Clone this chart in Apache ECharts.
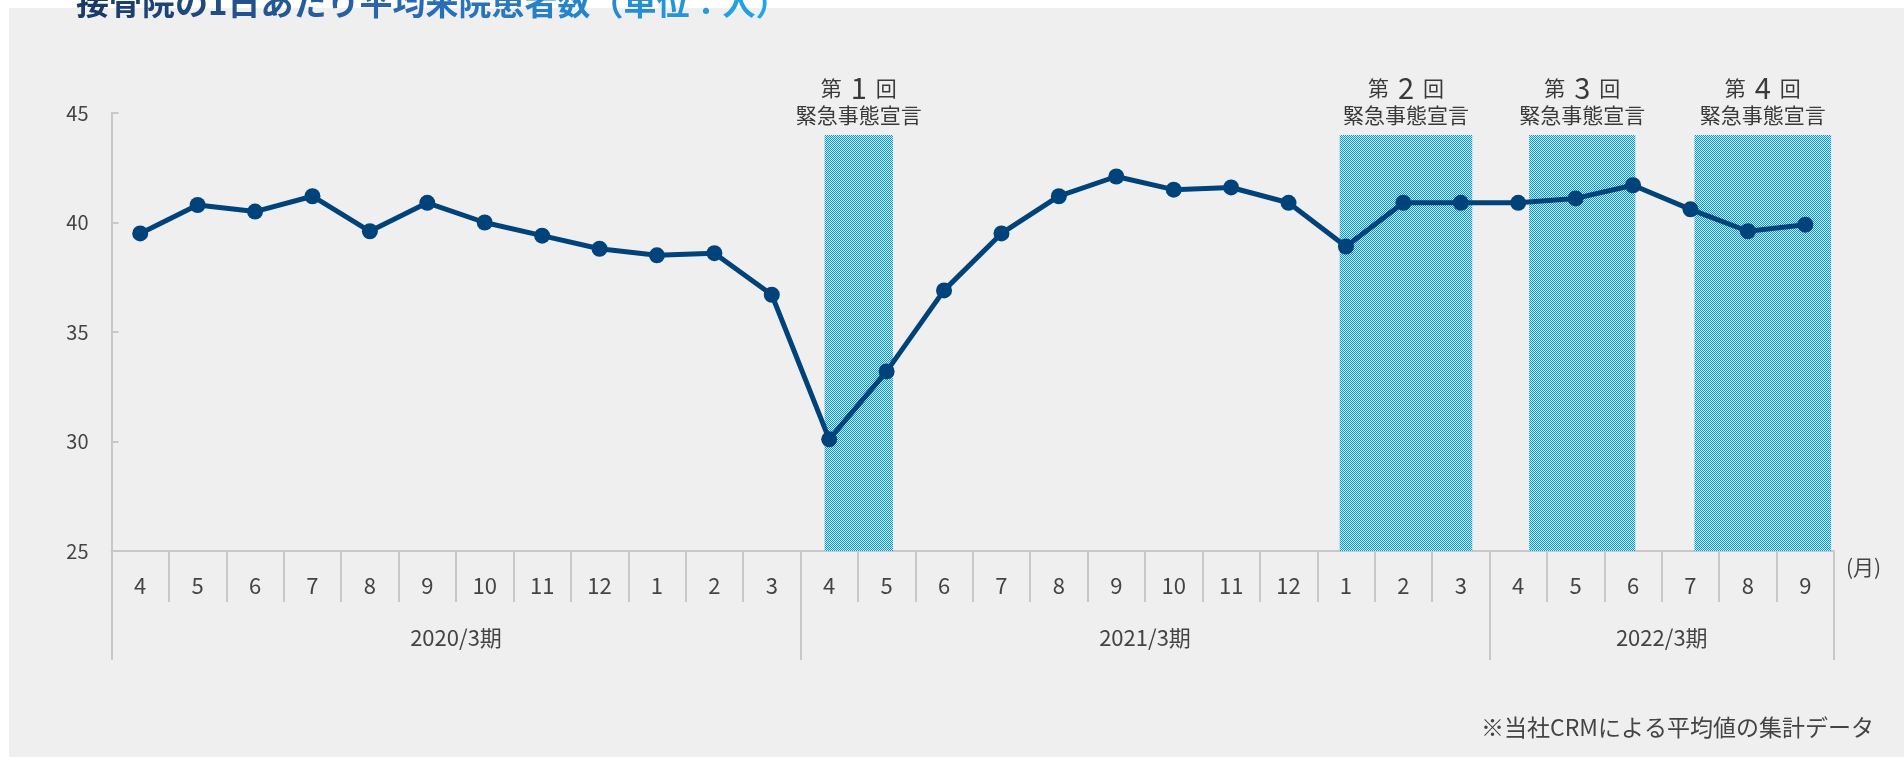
<!DOCTYPE html>
<html>
<head>
<meta charset="utf-8">
<script src="https://cdn.jsdelivr.net/npm/echarts@6/dist/echarts.min.js"></script>
<style>
html,body{margin:0;padding:0;background:#ffffff;}
#bg{position:absolute;left:9px;top:8px;width:1895px;height:749px;background:#efefef;}
#chart{position:absolute;left:0;top:0;width:1904px;height:757px;}
</style>
</head>
<body>
<div id="bg"></div>
<div id="chart"></div>
<script>
// ---- data ----
const months = ['4','5','6','7','8','9','10','11','12','1','2','3',
                '4','5','6','7','8','9','10','11','12','1','2','3',
                '4','5','6','7','8','9'];
const patients = [39.5,40.8,40.5,41.2,39.6,40.9,40.0,39.4,38.8,38.5,38.6,36.7,
                  30.1,33.2,36.9,39.5,41.2,42.1,41.5,41.6,40.9,38.9,40.9,40.9,
                  40.9,41.1,41.7,40.6,39.6,39.9];
const periodLabels = ['2020/3期','2021/3期','2022/3期'];
const periodMonths = [12,12,6];
const yMin = 25, yMax = 45, yStep = 5;
const declNumbers = ['1','2','3','4'];
const declStart = [12.42, 21.39, 24.69, 27.57];   // in month units along the axis
const declEnd   = [13.61, 23.70, 26.54, 29.95];
const declTop = 44;
const titleText = '接骨院の1日あたり平均来院患者数（単位：人）';
const noteText = '※当社CRMによる平均値の集計データ';
const unitText = '(月)';

// ---- derived ----
const boundaries = [0];
periodMonths.forEach(m => boundaries.push(boundaries[boundaries.length-1] + m));
const periodCenters = periodMonths.map((m,i) => boundaries[i] + m/2);

const FONT = '"Noto Sans CJK JP", "Noto Sans", sans-serif';
const TXT = '#444444';
const AXIS = '#c8c8c8';

// checker pattern
const pc = document.createElement('canvas');
pc.width = 2; pc.height = 2;
const g = pc.getContext('2d');
g.fillStyle = '#d4ecf8'; g.fillRect(0,0,2,2);
g.fillStyle = '#0096d8'; g.fillRect(0,0,1,1); g.fillRect(1,1,1,1);
const pattern = {image: pc, repeat: 'repeat'};

// title gradient via per-character colours
const gradStops = [[0, [26,58,104]], [0.45, [42,102,176]], [1, [34,165,232]]];
function gradColor(t) {
  for (let k = 0; k < gradStops.length - 1; k++) {
    const a = gradStops[k], b = gradStops[k+1];
    if (t <= b[0]) {
      const u = (t - a[0]) / (b[0] - a[0]);
      const c = a[1].map((v, j) => Math.round(v + (b[1][j] - v) * u));
      return 'rgb(' + c.join(',') + ')';
    }
  }
  return 'rgb(' + gradStops[gradStops.length-1][1].join(',') + ')';
}
const titleChars = Array.from(titleText);
const titleRich = {};
let titleRichText = '';
titleChars.forEach((ch, i) => {
  const key = 'c' + i;
  titleRich[key] = {fill: gradColor(i / (titleChars.length - 1)), fontSize: 33, fontWeight: 'bold', fontFamily: FONT};
  titleRichText += '{' + key + '|' + ch + '}';
});

const chart = echarts.init(document.getElementById('chart'), null, {renderer:'canvas'});

const option = {
  animation: false,
  backgroundColor: 'transparent',
  grid: {left: 111.5, right: 70, top: 113, bottom: 206},
  xAxis: [
    {
      type: 'category',
      data: months,
      boundaryGap: true,
      axisLine: {show: true, lineStyle: {color: AXIS, width: 2}},
      axisTick: {show: true, interval: 0, length: 51, lineStyle: {color: AXIS, width: 2}},
      axisLabel: {interval: 0, fontSize: 22, color: TXT, fontFamily: FONT, margin: 24},
      splitLine: {show: false}
    },
    {
      type: 'value',
      min: 0, max: boundaries[boundaries.length-1],
      position: 'bottom',
      axisLine: {show: false},
      axisTick: {show: true, customValues: boundaries, length: 109, lineStyle: {color: AXIS, width: 2}},
      axisLabel: {
        customValues: periodCenters,
        fontSize: 22, color: TXT, fontFamily: FONT, margin: 76,
        formatter: function (v) {
          const i = periodCenters.indexOf(v);
          return i >= 0 ? periodLabels[i] : '';
        }
      },
      splitLine: {show: false}
    }
  ],
  yAxis: {
    type: 'value',
    min: yMin, max: yMax, interval: yStep,
    axisLine: {show: true, lineStyle: {color: AXIS, width: 2}},
    axisTick: {show: true, inside: true, length: 7, lineStyle: {color: AXIS, width: 2}},
    axisLabel: {fontSize: 20, color: TXT, fontFamily: FONT, margin: 23},
    splitLine: {show: false}
  },
  series: [
    {
      type: 'custom',
      xAxisIndex: 1,
      yAxisIndex: 0,
      z: 1,
      clip: false,
      data: declStart.map((s, i) => [s, declEnd[i]]),
      renderItem: function (params, api) {
        const p0 = api.coord([api.value(0), declTop]);
        const p1 = api.coord([api.value(1), yMin]);
        const cx = (p0[0] + p1[0]) / 2;
        const num = declNumbers[params.dataIndex];
        return {
          type: 'group',
          children: [
            {type: 'rect', shape: {x: p0[0], y: p0[1], width: p1[0]-p0[0], height: p1[1]-p0[1]},
             style: {fill: pattern}},
            {type: 'text', x: cx, y: p0[1] - 47,
             style: {text: '{a|第}{b|' + num + '}{a|回}', align: 'center', verticalAlign: 'middle',
               rich: {a: {fontSize: 21, fontFamily: FONT, fill: '#3a3a3a'},
                      b: {fontSize: 29, fontFamily: FONT, fill: '#3a3a3a', padding: [0, 9, 0, 9]}}}},
            {type: 'text', x: cx, y: p0[1] - 20,
             style: {text: '緊急事態宣言', align: 'center', verticalAlign: 'middle',
               fontSize: 21, fontFamily: FONT, fill: '#3a3a3a'}}
          ]
        };
      }
    },
    {
      type: 'line',
      xAxisIndex: 0,
      yAxisIndex: 0,
      z: 3,
      data: patients,
      symbol: 'circle',
      symbolSize: 16,
      lineStyle: {width: 5, color: '#00437b'},
      itemStyle: {color: '#00437b'}
    }
  ],
  graphic: [
    {type: 'text', x: 76, y: 2, z: 10,
     style: {text: titleRichText, rich: titleRich, align: 'left', verticalAlign: 'middle',
       font: 'bold 33px ' + FONT}},
    {type: 'text', x: 1846, y: 567,
     style: {text: unitText, align: 'left', verticalAlign: 'middle', fontSize: 21, fontFamily: FONT, fill: TXT}},
    {type: 'text', x: 1874, y: 727,
     style: {text: noteText, align: 'right', verticalAlign: 'middle', fontSize: 23, fontFamily: FONT, fill: TXT}}
  ]
};
chart.setOption(option);
</script>
</body>
</html>
